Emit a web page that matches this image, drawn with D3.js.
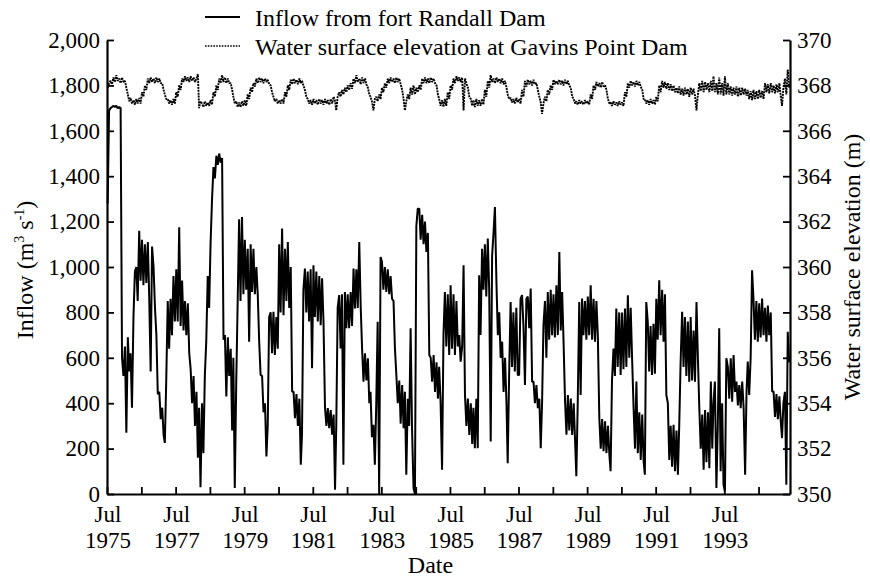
<!DOCTYPE html>
<html>
<head>
<meta charset="utf-8">
<script src="https://cdn.jsdelivr.net/npm/d3@7"></script>
<style>
  body { margin: 0; background: #fff; }
  svg text { font-family: "Liberation Serif", "Times New Roman", serif; fill: #000; }
</style>
</head>
<body>
<svg id="chart" width="870" height="577"></svg>
<script>
// Record runs from July 1975; two readings per month (around the 8th and the 23rd).
const startDate = new Date(1975, 6, 1);
const endDate = new Date(1995, 5, 1);
const readingDays = [8, 23];

// Inflow from Fort Randall Dam (m3/s), one line per year starting in July.
const inflow = [
  1280,1690, 1700,1705, 1710,1705, 1710,1700, 1705,1700, 600,520, 650,270, 690,540, 620,380, 780,980, 1000,850, 1160,940,
  1120,920, 1100,930, 1110,860, 540,1090, 1000,820, 700,440, 450,330, 380,260, 225,500, 850,640, 860,700, 960,760,
  990,760, 1175,740, 940,720, 850,700, 840,620, 550,400, 520,300, 450,160, 380,30, 400,180, 520,670, 960,820,
  1100,1290, 1440,1390, 1490,1450, 1500,1460, 1480,680, 700,430, 690,520, 640,280, 600,26, 500,850, 1210,850, 1220,880,
  1120,900, 1080,671, 1100,890, 1080,880, 1000,876, 671,524, 520,360, 400,165, 300,780, 800,620, 803,612, 780,640,
  1100,800, 1169,788, 1080,850, 1110,820, 1000,450, 451,334, 440,300, 420,129, 261,900, 993,800, 980,760, 990,554,
  1008,780, 980,760, 960,744, 950,760, 380,300, 378,290, 370,261, 350,19, 300,820, 876,641, 880,129, 890,730,
  880,730, 890,740, 993,817, 990,820, 1110,830, 641,495, 620,500, 598,400, 450,250, 305,129, 400,759, 0,1044,
  1023,900, 1000,890, 990,880, 960,860, 850,640, 524,400, 500,310, 480,290, 450,85, 420,300, 730,290, 26,0,
  1180,1257, 1257,1120, 1230,1100, 1200,1066, 1150,612, 600,495, 612,450, 580,420, 560,407, 107,700, 890,650, 880,612,
  920,640, 880,612, 850,650, 700,583, 650,1008, 436,300, 420,260, 400,220, 380,202, 420,202, 964,700, 1080,900,
  1100,870, 1125,900, 231,1050, 1150,1264, 934,700, 800,600, 671,450, 600,400, 136,520, 846,560, 800,540, 820,524,
  524,860, 876,740, 480,860, 870,730, 905,495, 495,400, 480,378, 420,202, 400,744, 850,600, 890,680, 900,700,
  880,690, 920,700, 1066,720, 890,671, 407,261, 436,280, 420,260, 400,231, 78,400, 846,436, 861,700, 850,680,
  870,700, 920,680, 860,671, 850,700, 334,200, 330,188, 320,180, 300,173, 100,500, 641,520, 817,560, 800,524,
  800,550, 817,560, 876,600, 820,600, 378,200, 495,180, 360,150, 350,143, 85,846, 759,540, 740,524, 750,530,
  860,680, 942,700, 900,671, 880,436, 400,150, 300,120, 305,100, 280,85, 300,583, 803,560, 780,520, 760,495,
  780,500, 720,495, 846,600, 378,200, 350,107, 370,140, 360,114, 495,200, 400,495, 26,300, 730,100, 400,41,
  12,598, 560,420, 598,407, 612,450, 495,390, 480,378, 495,380, 85,450, 583,436, 600,986, 861,680, 850,671,
  840,690, 861,700, 820,671, 830,700, 800,451, 451,340, 440,330, 430,319, 246,400, 450,41, 715,580
];

// Water surface elevation at Gavins Point Dam (m), same reading schedule.
const elevation = [
  367.9,368.1, 368.2,368.05, 368.35,368.15, 368.45,368.2, 368.3,368.1, 368.35,368.15, 368.2,367.9, 367.6,367.3, 367.45,367.2, 367.35,367.15, 367.4,367.2, 367.45,367.2,
  367.7,367.5, 368.0,367.8, 368.3,368.1, 368.35,368.15, 368.3,368.1, 368.35,368.15, 368.3,368.1, 368.1,367.8, 367.6,367.4, 367.4,367.2, 367.35,367.15, 367.4,367.2,
  367.7,367.5, 368.0,367.8, 368.3,368.15, 368.4,368.2, 368.35,368.15, 368.4,368.2, 368.35,368.15, 368.3,368.5, 367.0,367.3, 367.2,367.05, 367.3,367.1, 367.25,367.1,
  367.35,367.15, 367.7,367.5, 368.0,367.8, 368.3,368.1, 368.45,368.15, 368.35,368.1, 368.3,368.1, 368.1,367.8, 367.5,367.2, 367.3,367.05, 367.25,367.05, 367.3,367.1,
  367.35,367.1, 367.6,367.4, 367.9,367.7, 368.1,367.95, 368.3,368.1, 368.35,368.15, 368.3,368.1, 368.3,368.15, 368.25,368.05, 368.0,367.7, 367.5,367.3, 367.4,367.2,
  367.35,367.2, 367.4,367.2, 367.7,367.5, 368.0,367.8, 368.25,368.05, 368.3,368.1, 368.25,368.05, 368.3,368.1, 368.2,368.0, 367.8,367.5, 367.4,367.2, 367.35,367.15,
  367.4,367.2, 367.35,367.15, 367.4,367.2, 367.35,367.15, 367.4,367.2, 367.35,367.15, 367.4,367.2, 367.5,367.3, 366.9,367.5, 367.7,367.5, 367.8,367.6, 367.9,367.7,
  368.0,367.8, 368.1,367.85, 368.3,368.1, 368.45,368.15, 368.3,368.05, 368.35,368.1, 368.3,368.05, 367.9,367.6, 367.5,367.3, 366.9,367.4, 367.5,367.3, 367.6,367.4,
  367.9,367.7, 368.1,367.9, 368.3,368.1, 368.35,368.15, 368.3,368.1, 368.35,368.15, 368.3,368.05, 367.8,367.4, 366.9,367.3, 367.6,367.4, 367.9,367.6, 368.0,367.6,
  367.9,367.7, 368.0,367.8, 368.3,368.1, 368.35,368.1, 368.3,368.1, 368.35,368.15, 368.3,368.1, 368.0,367.6, 367.4,367.1, 367.35,367.05, 367.4,367.1, 367.7,367.4,
  368.0,367.8, 368.3,368.1, 368.4,368.2, 368.35,368.15, 368.35,366.9, 368.3,368.1, 367.9,367.5, 367.4,367.1, 367.35,367.05, 367.4,367.1, 367.35,367.1, 367.4,367.15,
  367.8,367.5, 368.2,367.9, 368.45,368.15, 368.3,368.1, 368.35,368.15, 368.3,368.1, 368.3,368.05, 368.2,367.9, 367.6,367.4, 367.45,367.25, 367.4,367.2, 367.45,367.25,
  367.4,367.2, 367.8,367.5, 368.2,367.95, 368.25,368.05, 368.2,368.0, 368.25,368.05, 368.1,367.8, 367.5,367.25, 366.75,367.2, 367.5,367.3, 367.8,367.6, 368.0,367.8,
  368.25,368.05, 368.2,368.05, 368.25,368.05, 368.2,368.0, 368.25,368.05, 368.2,368.0, 367.9,367.5, 367.4,367.2, 367.3,367.15, 367.35,367.2, 367.3,367.15, 367.35,367.2,
  367.3,367.15, 367.6,367.4, 368.0,367.8, 368.15,367.95, 368.1,367.9, 368.15,367.95, 368.0,367.8, 367.4,367.2, 367.25,367.1, 367.3,367.15, 367.25,367.1, 367.3,367.15,
  367.25,367.1, 367.7,367.5, 368.1,367.9, 368.2,368.0, 368.15,367.95, 368.2,368.0, 368.15,367.95, 367.8,367.4, 367.4,367.2, 367.35,367.15, 367.4,367.2, 367.35,367.15,
  367.5,367.3, 368.0,367.7, 368.2,367.9, 368.15,367.85, 368.1,367.8, 368.05,367.75, 368.0,367.7, 367.9,367.65, 367.95,367.6, 367.85,367.55, 367.9,367.6, 367.85,367.5,
  367.9,367.6, 367.85,367.55, 366.9,367.6, 368.1,367.75, 368.2,367.7, 368.15,367.8, 368.1,367.7, 368.2,367.75, 368.4,367.7, 368.1,367.6, 368.35,367.6, 368.1,367.55,
  368.4,367.6, 368.1,367.6, 367.95,367.55, 367.9,367.6, 367.95,367.5, 367.9,367.55, 367.9,367.6, 367.85,367.55, 367.8,367.4, 367.75,367.35, 367.8,367.4, 367.75,367.4,
  367.8,367.45, 367.75,367.4, 368.1,367.7, 368.05,367.65, 368.1,367.7, 368.0,367.65, 368.05,367.7, 368.1,367.5, 367.1,367.9, 368.3,367.6, 368.7,367.9
];

const inflowTicks = [0, 200, 400, 600, 800, 1000, 1200, 1400, 1600, 1800, 2000];
const elevationTicks = [350, 352, 354, 356, 358, 360, 362, 364, 366, 368, 370];
const tickYears = d3.range(1975, 1995);
const labelYears = [1975, 1977, 1979, 1981, 1983, 1985, 1987, 1989, 1991, 1993];

const legendItems = [
  { label: "Inflow from fort Randall Dam", dash: null },
  { label: "Water surface elevation at Gavins Point Dam", dash: "1.6,1.2" }
];

// Reading date for index i: month offset floor(i/2) from July 1975.
const readingDate = i => new Date(1975, 6 + Math.floor(i / 2), readingDays[i % 2]);

const svg = d3.select("#chart");
const margin = { left: 107, right: 80, top: 40, bottom: 83 };
const W = 870, H = 577;

const x = d3.scaleTime().domain([startDate, endDate]).range([margin.left, W - margin.right]);
const yL = d3.scaleLinear().domain([0, 2000]).range([H - margin.bottom, margin.top]);
const yR = d3.scaleLinear().domain([350, 370]).range([H - margin.bottom, margin.top]);

// Series
const inflowLine = d3.line().x((d, i) => x(readingDate(i))).y(d => yL(d));
const elevLine = d3.line().x((d, i) => x(readingDate(i))).y(d => yR(d));

svg.append("path")
  .datum(inflow)
  .attr("d", inflowLine)
  .attr("fill", "none")
  .attr("stroke", "#000")
  .attr("stroke-width", 2)
  .attr("stroke-linejoin", "bevel");

svg.append("path")
  .datum(elevation)
  .attr("d", elevLine)
  .attr("fill", "none")
  .attr("stroke", "#000")
  .attr("stroke-width", 1.9)
  .attr("stroke-linejoin", "bevel")
  .attr("stroke-dasharray", "2,0.9");

// Axes
const fontSize = 23;
function styleAxis(g) {
  g.attr("font-family", null).attr("font-size", null);
  g.select(".domain").attr("stroke", "#000").attr("stroke-width", 2.2);
  g.selectAll(".tick line").attr("stroke", "#000").attr("stroke-width", 1.8);
  g.selectAll(".tick text").style("font-size", fontSize + "px").attr("fill", "#000");
}

svg.append("g")
  .attr("transform", `translate(${margin.left},0)`)
  .call(d3.axisLeft(yL).tickValues(inflowTicks).tickFormat(d3.format(",")).tickSize(-7).tickSizeOuter(0).tickPadding(7))
  .call(styleAxis);

svg.append("g")
  .attr("transform", `translate(${W - margin.right},0)`)
  .call(d3.axisRight(yR).tickValues(elevationTicks).tickSize(-7).tickSizeOuter(0).tickPadding(7))
  .call(styleAxis);

svg.append("g")
  .attr("transform", `translate(0,${H - margin.bottom})`)
  .call(d3.axisBottom(x).tickValues(tickYears.map(y => new Date(y, 6, 1))).tickFormat("").tickSize(-7).tickSizeOuter(0))
  .call(styleAxis);

const xLabels = svg.append("g").attr("text-anchor", "middle").style("font-size", fontSize + "px");
labelYears.forEach(yr => {
  const cx = x(new Date(yr, 6, 1)) + 1;
  const t = xLabels.append("text");
  t.append("tspan").attr("x", cx).attr("y", H - margin.bottom + 28).text("Jul");
  t.append("tspan").attr("x", cx).attr("y", H - margin.bottom + 54).text(yr);
});

// Axis titles
svg.append("text")
  .attr("x", (margin.left + W - margin.right) / 2 - 18)
  .attr("y", 573)
  .attr("text-anchor", "middle")
  .style("font-size", "24px")
  .text("Date");

const leftTitle = svg.append("text")
  .attr("transform", `translate(33,${(margin.top + H - margin.bottom) / 2 + 3}) rotate(-90)`)
  .attr("text-anchor", "middle")
  .style("font-size", "24px");
leftTitle.append("tspan").text("Inflow (m");
leftTitle.append("tspan").attr("dy", -9).style("font-size", "14px").text("3");
leftTitle.append("tspan").attr("dy", 9).text(" s");
leftTitle.append("tspan").attr("dy", -9).style("font-size", "14px").text("-1");
leftTitle.append("tspan").attr("dy", 9).text(")");

svg.append("text")
  .attr("transform", `translate(860,${(margin.top + H - margin.bottom) / 2}) rotate(-90)`)
  .attr("text-anchor", "middle")
  .style("font-size", "24px")
  .text("Water surface elevation (m)");

// Legend
const legend = svg.append("g");
legendItems.forEach((item, i) => {
  const ly = 17 + i * 29;
  legend.append("line")
    .attr("x1", 205).attr("x2", 240).attr("y1", ly).attr("y2", ly)
    .attr("stroke", "#000")
    .attr("stroke-width", item.dash ? 1.6 : 2.2)
    .attr("stroke-dasharray", item.dash);
  legend.append("text")
    .attr("x", 255).attr("y", ly + 9)
    .style("font-size", "24px")
    .text(item.label);
});
</script>
</body>
</html>
